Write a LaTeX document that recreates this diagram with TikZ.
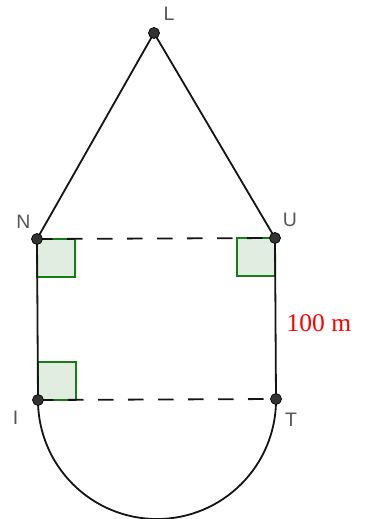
\documentclass[tikz,border=0pt]{standalone}
\usepackage{fontspec}
\setmainfont{Liberation Serif}
\newfontfamily\lblfont{Liberation Sans}
\definecolor{lblgray}{RGB}{85,85,85}
\definecolor{ptfill}{RGB}{51,51,51}
\definecolor{sqgreen}{RGB}{20,125,20}
\definecolor{sqfill}{RGB}{226,237,226}
\definecolor{linecol}{RGB}{20,20,20}
\begin{document}
\begin{tikzpicture}[x=1pt,y=-1pt,
  seg/.style={draw=linecol,line width=1.8pt},
  dashseg/.style={seg,dash pattern=on 15.5pt off 14.5pt},
  rightsq/.style={fill=sqfill,draw=sqgreen,line width=1.4pt},
  ptdot/.style={circle,fill=ptfill,draw=black,line width=0.7pt,inner sep=0pt,minimum size=11pt},
  lbl/.style={font=\lblfont\fontsize{19.5}{20}\selectfont,text=lblgray,inner sep=0pt},
  meas/.style={font=\fontsize{25.5}{26}\selectfont,text=red,inner sep=0pt}]
\useasboundingbox (0,0) rectangle (366,519);
% coordinates
\coordinate (L) at (154,33);
\coordinate (N) at (37,239);
\coordinate (U) at (275,238);
\coordinate (I) at (38,400);
\coordinate (T) at (276,399);
% right-angle marks
\draw[rightsq] (N) rectangle (75,277);
\draw[rightsq] (U) rectangle (237,276);
\draw[rightsq] (I) rectangle (76,362);
% segments
\draw[seg] (L) -- (N);
\draw[seg] (L) -- (U);
\draw[seg] (N) -- (I);
\draw[seg] (U) -- (T);
\draw[dashseg] (N) -- (U);
\draw[dashseg] (I) -- (T);
\draw[seg] (I) arc[start angle=180,end angle=0,radius=119];
% points
\foreach \p in {L,N,U,I,T} \node[ptdot] (d\p) at (\p) {};
% labels
\node[lbl] (tL) at (169,14) {L};
\node[lbl] (tN) at (23.5,221.5) {N};
\node[lbl] (tU) at (290,219.5) {U};
\node[lbl] (tI) at (15.5,417.5) {I};
\node[lbl] (tT) at (291,419.5) {T};
\node[meas,anchor=west] (m) at (286.5,323) {100 m};
\end{tikzpicture}
\end{document}
